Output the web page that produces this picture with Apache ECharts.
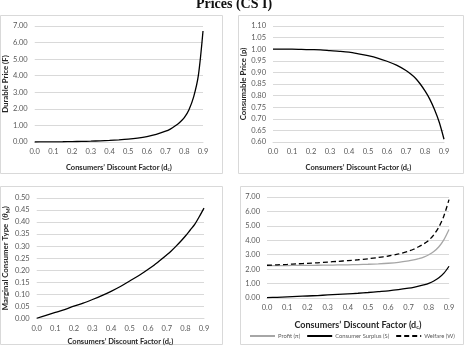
<!DOCTYPE html>
<html><head><meta charset="utf-8">
<script src="https://cdn.jsdelivr.net/npm/echarts@6/dist/echarts.min.js"></script>
<style>html,body{margin:0;padding:0;background:#fff}#c{width:465px;height:347px}</style>
</head><body><div id="c"></div>
<script>
const dcValues = [0,0.05,0.1,0.15,0.2,0.25,0.3,0.35,0.4,0.45,0.5,0.55,0.6,0.65,0.7,0.725,0.75,0.775,0.8,0.825,0.85,0.875,0.9];
const durablePrice = [0,0.003,0.008,0.015,0.024,0.035,0.05,0.07,0.095,0.13,0.175,0.24,0.33,0.46,0.65,0.78,0.96,1.18,1.47,1.95,2.72,4.0,6.7];
const consumablePrice = [1.0,1.0,1.0,0.999,0.998,0.997,0.994,0.991,0.987,0.98,0.972,0.962,0.948,0.931,0.908,0.893,0.875,0.85,0.82,0.785,0.74,0.685,0.612];
const marginalType = [0,0.012,0.024,0.036,0.05,0.063,0.078,0.094,0.112,0.132,0.155,0.178,0.204,0.232,0.264,0.281,0.3,0.32,0.342,0.366,0.39,0.423,0.458];
const profit = [2.25,2.25,2.25,2.26,2.26,2.27,2.28,2.29,2.3,2.32,2.34,2.37,2.41,2.47,2.57,2.64,2.73,2.84,3.0,3.22,3.55,4.05,4.75];
const consumerSurplus = [0.02,0.05,0.08,0.11,0.14,0.17,0.21,0.25,0.29,0.33,0.38,0.44,0.5,0.58,0.68,0.74,0.82,0.91,1.02,1.18,1.4,1.72,2.2];
const welfare = [2.27,2.3,2.33,2.37,2.4,2.44,2.49,2.54,2.59,2.65,2.72,2.81,2.91,3.05,3.25,3.38,3.55,3.75,4.0,4.38,4.92,5.7,6.82];
const xTicks = {min:0, max:0.9, interval:0.1};
const legendNames = ['Profit (\u03c0)','Consumer Surplus (S)','Welfare (W)'];

const pairs = arr => dcValues.map((x,i)=>[x,arr[i]]);
const FONT = 'Lato';
const tickStyle = {fontSize:7.5, color:'#595959', fontFamily:FONT};
const gridLine = {show:true, lineStyle:{color:'#d9d9d9', width:1}};
function xAxis(gi, nameSize, gap){
  return {type:'value', gridIndex:gi, min:xTicks.min, max:xTicks.max, interval:xTicks.interval,
    axisLine:{show:true, lineStyle:{color:'#d9d9d9'}}, axisTick:{show:false}, splitLine:{show:false},
    axisLabel:Object.assign({margin:6, formatter:v=>v.toFixed(1)}, tickStyle),
    name:'{t|Consumers\u2019 Discount Factor (d}{s|c}{t|)}', nameLocation:'middle', nameGap:gap,
    nameTextStyle:{rich:{t:{fontSize:nameSize, fontWeight:'bold', color:'#262626', fontFamily:FONT},
      s:{fontSize:nameSize*0.65, fontWeight:'bold', color:'#262626', fontFamily:FONT, padding:[nameSize*0.5,0,0,0]}}}};
}
function yAxis(gi, min, max, interval, dec, name, gap){
  return {type:'value', gridIndex:gi, min, max, interval,
    axisLine:{show:false}, axisTick:{show:false}, splitLine:gridLine,
    axisLabel:Object.assign({margin:7, formatter:v=>v.toFixed(dec)}, tickStyle),
    name, nameLocation:'middle', nameGap:gap, nameRotate:90,
    nameTextStyle:{fontSize:7.8, fontWeight:'bold', color:'#262626', fontFamily:FONT,
      rich:{t:{fontSize:7.8, fontWeight:'bold', color:'#262626', fontFamily:FONT},
            th:{fontSize:8.5, fontStyle:'italic', color:'#262626', fontFamily:'Liberation Serif'},
            s:{fontSize:5.5, fontWeight:'bold', color:'#262626', fontFamily:FONT, padding:[5,0,0,0]}}}};
}
const line = (gi, data, color, type, name) => ({type:'line', name, xAxisIndex:gi, yAxisIndex:gi, data:pairs(data),
  showSymbol:false, symbol:'none', smooth:0.3, lineStyle:{color, width:1.3, type}, itemStyle:{color}});

const option = {
  animation:false,
  title:{text:'Prices (CS I)', left:229, textAlign:'center', top:-8,
    textStyle:{fontFamily:'Liberation Serif', fontWeight:'bold', fontSize:14, color:'#111'}},
  graphic:[
    {type:'rect', shape:{x:0.5,y:15.5,width:222,height:158}, style:{fill:'none', stroke:'#d9d9d9', lineWidth:1}},
    {type:'rect', shape:{x:238.5,y:15.5,width:225,height:158}, style:{fill:'none', stroke:'#d9d9d9', lineWidth:1}},
    {type:'rect', shape:{x:0.5,y:186.5,width:222,height:158}, style:{fill:'none', stroke:'#d9d9d9', lineWidth:1}},
    {type:'rect', shape:{x:240.5,y:186.5,width:223,height:158}, style:{fill:'none', stroke:'#d9d9d9', lineWidth:1}}
  ],
  grid:[
    {left:33, top:26, width:170, height:116},
    {left:273, top:26, width:171, height:116},
    {left:34, top:198, width:170, height:121},
    {left:267, top:197, width:182, height:101}
  ],
  xAxis:[xAxis(0,7.5,21), xAxis(1,7.5,21), xAxis(2,7.5,19), xAxis(3,9,22)],
  yAxis:[
    yAxis(0,0,7,1,2,'Durable Price (F)',25),
    yAxis(1,0.6,1.1,0.05,2,'Consumable Price (p)',25),
    yAxis(2,0,0.5,0.05,2,'{t|Marginal Consumer Type  (}{th|\u03b8}{s|M}{t|)}',25),
    yAxis(3,0,7,1,2,'',25)
  ],
  legend:{show:true, orient:'horizontal', data:legendNames, left:249, width:216, top:333, itemWidth:25, itemHeight:6, itemGap:6,
    itemStyle:{opacity:0}, textStyle:{fontSize:5.8, color:'#595959', fontFamily:FONT, padding:[0,0,0,-2]}, padding:0},
  series:[
    line(0, durablePrice, '#000', 'solid'),
    line(1, consumablePrice, '#000', 'solid'),
    line(2, marginalType, '#000', 'solid'),
    line(3, profit, '#a6a6a6', 'solid', legendNames[0]),
    line(3, consumerSurplus, '#000', 'solid', legendNames[1]),
    line(3, welfare, '#000', [5,3], legendNames[2])
  ]
};
const chart = echarts.init(document.getElementById('c'), null, {renderer:'canvas'});
chart.setOption(option);
</script></body></html>
